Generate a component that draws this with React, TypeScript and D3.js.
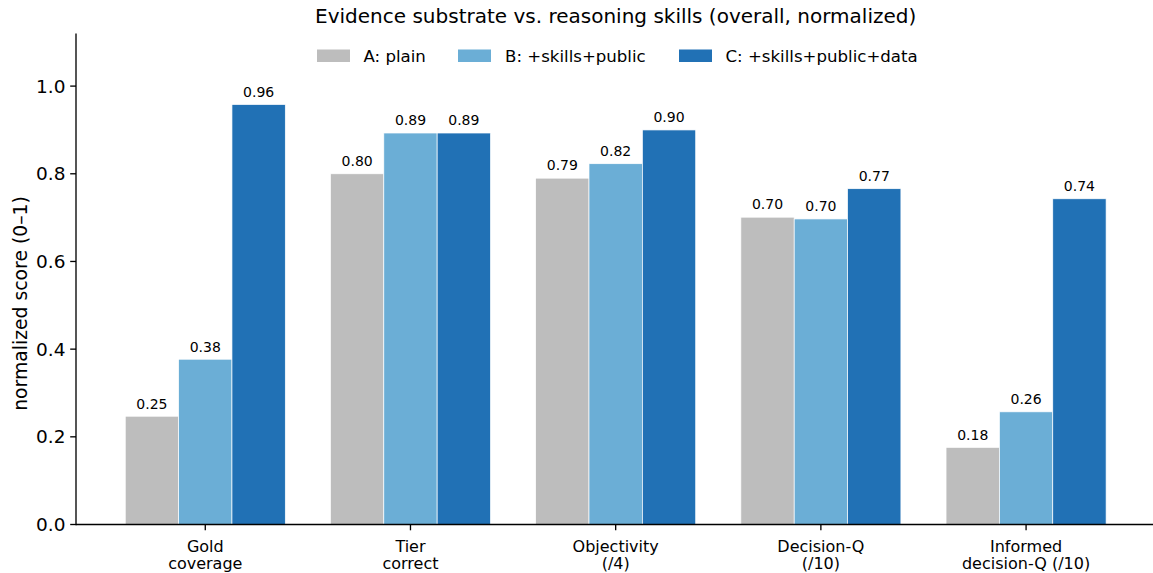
import React from "react";
import * as d3 from "d3";

const categories: string[][] = [
  ["Gold", "coverage"],
  ["Tier", "correct"],
  ["Objectivity", "(/4)"],
  ["Decision-Q", "(/10)"],
  ["Informed", "decision-Q (/10)"],
];
const seriesNames = ["A: plain", "B: +skills+public", "C: +skills+public+data"];
const seriesA = [0.247, 0.8, 0.79, 0.701, 0.176];
const seriesB = [0.377, 0.893, 0.823, 0.697, 0.257];
const seriesC = [0.958, 0.893, 0.9, 0.766, 0.743];
const colors = ["#bdbdbd", "#6baed6", "#2171b5"];
const yTicks = [0, 0.2, 0.4, 0.6, 0.8, 1.0];
const title = "Evidence substrate vs. reasoning skills (overall, normalized)";
const yLabel = "normalized score (0\u20131)";

const W = 1153;
const H = 573;
const FONT = "DejaVu Sans, sans-serif";

export default function App() {
  const series = [seriesA, seriesB, seriesC];
  const left = 76;
  const top = 33.5;
  const bottom = 524.5;
  const x = d3.scaleLinear().domain([-0.63, 4.63]).range([left, left + 5.26 * 205.2]);
  const y = d3.scaleLinear().domain([0, 1.12]).range([bottom, top]);
  const bw = 0.26;
  const bwPx = x(bw) - x(0);

  const legendPatchX = [317, 458, 679];
  const legendTextX = [363.5, 505, 725.5];

  return (
    <svg
      width={W}
      height={H}
      style={{ position: "absolute", left: 0, top: 0, background: "#fff" }}
      fontFamily={FONT}
    >
      <rect x={0} y={0} width={W} height={H} fill="#fff" />
      {/* bars */}
      {series.map((vals, si) =>
        vals.map((v, ci) => {
          const cx = ci + (si - 1) * bw;
          return (
            <g key={`b${si}-${ci}`}>
              <rect
                x={x(cx - bw / 2)}
                y={y(v)}
                width={bwPx}
                height={y(0) - y(v)}
                fill={colors[si]}
                stroke="#fff"
                strokeWidth={0.7}
              />
              <text
                x={x(cx)}
                y={y(v) - 7.7}
                textAnchor="middle"
                fontSize={14}
                fill="#000"
              >
                {v.toFixed(2)}
              </text>
            </g>
          );
        })
      )}
      {/* axes */}
      <line x1={left} x2={left} y1={top} y2={bottom + 0.7} stroke="#000" strokeWidth={1.33} />
      <line x1={left} x2={W} y1={bottom} y2={bottom} stroke="#000" strokeWidth={1.33} />
      {yTicks.map((t) => (
        <g key={`yt${t}`}>
          <line x1={left - 5.8} x2={left} y1={y(t)} y2={y(t)} stroke="#000" strokeWidth={1.33} />
          <text
            x={left - 10.5}
            y={y(t)}
            dy="0.36em"
            textAnchor="end"
            fontSize={18.5}
            fill="#000"
          >
            {t.toFixed(1)}
          </text>
        </g>
      ))}
      {categories.map((lines, ci) => (
        <g key={`xt${ci}`}>
          <line x1={x(ci)} x2={x(ci)} y1={bottom} y2={bottom + 5.8} stroke="#000" strokeWidth={1.33} />
          {lines.map((ln, li) => (
            <text
              key={li}
              x={x(ci)}
              y={551.7 + li * 17.6}
              textAnchor="middle"
              fontSize={16}
              fill="#000"
            >
              {ln}
            </text>
          ))}
        </g>
      ))}
      {/* y label */}
      <text
        transform={`translate(26.5, 303.5) rotate(-90)`}
        textAnchor="middle"
        fontSize={18.8}
        fill="#000"
      >
        {yLabel}
      </text>
      {/* title */}
      <text x={(left + x(4.63)) / 2} y={23.3} textAnchor="middle" fontSize={20} fill="#000">
        {title}
      </text>
      {/* legend */}
      {seriesNames.map((nm, si) => (
        <g key={`lg${si}`}>
          <rect x={legendPatchX[si]} y={49.5} width={33} height={12.5} fill={colors[si]} />
          <text x={legendTextX[si]} y={61.8} fontSize={16.6} fill="#000">
            {nm}
          </text>
        </g>
      ))}
    </svg>
  );
}
